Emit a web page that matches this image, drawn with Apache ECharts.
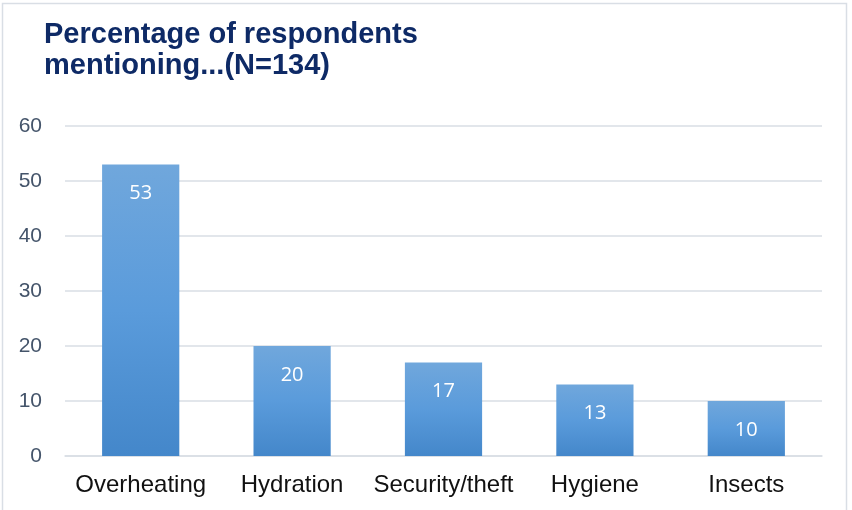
<!DOCTYPE html>
<html>
<head>
<meta charset="utf-8">
<script src="https://cdn.jsdelivr.net/npm/echarts@6/dist/echarts.min.js"></script>
<style>html,body{margin:0;padding:0;background:#fff;}#c{width:852px;height:510px;}</style>
</head>
<body>
<div id="c"></div>
<script>
const categories = ['Overheating', 'Hydration', 'Security/theft', 'Hygiene', 'Insects'];
const values = [53, 20, 17, 13, 10];
const yTicks = [0, 10, 20, 30, 40, 50, 60];

const chart = echarts.init(document.getElementById('c'));
chart.setOption({
  animation: false,
  backgroundColor: '#fff',
  graphic: [{
    type: 'rect', z: -1,
    shape: {x: 2.5, y: 3.5, width: 844, height: 520},
    style: {fill: 'none', stroke: '#D9DEE5', lineWidth: 1.5}
  }],
  title: {
    text: 'Percentage of respondents\nmentioning...(N=134)',
    left: 44, top: 19, padding: 0,
    textStyle: {fontFamily: 'Liberation Sans', fontWeight: 'bold', fontSize: 29, color: '#0E2A66', lineHeight: 31}
  },
  grid: {left: 65, right: 30, top: 126, bottom: 54},
  xAxis: {
    type: 'category', data: categories,
    axisLine: {show: true, lineStyle: {color: '#D9DEE5', width: 1.5}},
    axisTick: {show: false},
    axisLabel: {interval: 0, fontFamily: 'Liberation Sans', fontSize: 24, color: '#111', margin: 17}
  },
  yAxis: {
    type: 'value', min: yTicks[0], max: yTicks[yTicks.length - 1], interval: 10,
    axisLine: {show: false}, axisTick: {show: false},
    splitLine: {lineStyle: {color: '#D9DEE5', width: 1.5}},
    axisLabel: {fontFamily: 'Liberation Sans', fontSize: 21, color: '#44546A', margin: 23}
  },
  series: [{
    type: 'bar', data: values, barWidth: '51%',
    itemStyle: {color: new echarts.graphic.LinearGradient(0, 0, 0, 1, [
      {offset: 0, color: '#70A7DC'}, {offset: 0.5, color: '#5A9BDB'}, {offset: 1, color: '#4487CA'}
    ])},
    label: {show: true, position: 'insideTop', distance: 19, color: '#fff', fontFamily: 'Open Sans', fontSize: 20}
  }]
});
</script>
</body>
</html>
